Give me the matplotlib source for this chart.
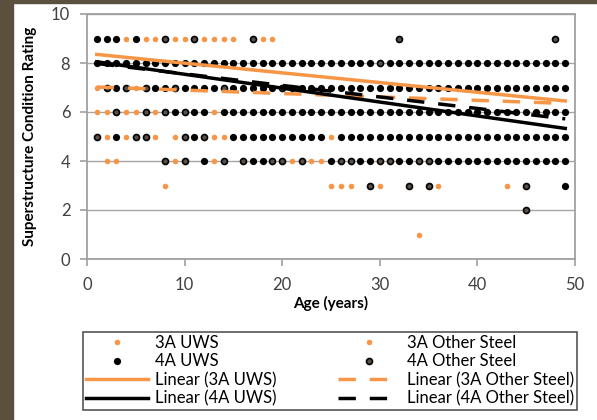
import matplotlib.pyplot as plt
from matplotlib.patches import Rectangle

plt.rcParams['font.family'] = ['Lato', 'DejaVu Sans']

orange = '#F79646'

# points per condition rating -> ages
uws3 = {9: [4, 6, 7, 9, 10, 12, 13], 6: [1, 2, 4, 5, 7, 13], 4: [2, 3, 9, 13]}
uws4 = {9: [1, 2, 3, 5],
        8: list(range(1, 30)) + list(range(31, 50)),
        7: [3, 7, 8, 10, 11, 12, 13, 15, 16, 17, 18, 19] + list(range(21, 50)),
        6: [9, 11, 12] + list(range(14, 50)),
        5: [3, 11] + list(range(15, 25)) + list(range(26, 50)),
        4: [12, 17, 18, 25, 28, 29, 32, 33] + list(range(36, 50)),
        3: [49]}
oth3 = {9: [14, 15, 18, 19], 7: [1, 5], 5: [2, 4, 7, 9, 13, 14, 25],
        4: [21, 23, 24], 3: [8, 25, 26, 27, 30, 36, 43], 1: [34]}
oth4 = {9: [8, 11, 17, 32, 48], 8: [30], 7: [2, 4, 6, 9, 14, 20],
        6: [3, 6, 8, 10], 5: [1, 5, 6, 10, 12],
        4: [8, 10, 14, 16, 19, 20, 22, 26, 27, 30, 31, 34, 35],
        3: [29, 33, 35, 45], 2: [45]}

# linear trend lines, end points at age 1 and 49
trend_age = [1, 49]
trend_uws3 = [8.35, 6.45]
trend_uws4 = [8.05, 5.33]
trend_oth3 = [7.02, 6.35]
trend_oth4 = [7.98, 5.72]


def xy(d):
    xs, ys = [], []
    for r, ages in d.items():
        xs += ages
        ys += [r] * len(ages)
    return xs, ys


fig = plt.figure(figsize=(5.97, 4.2), dpi=100)
fig.patches.append(Rectangle((0, 0), 13 / 597, 1, transform=fig.transFigure,
                             color='#5b4f3e', zorder=-1))
fig.patches.append(Rectangle((0, 1 - 3 / 420), 1, 3 / 420, transform=fig.transFigure,
                             color='#5b4f3e', zorder=-1))

ax = fig.add_axes([87 / 597, 1 - 259 / 420, (575 - 87) / 597, (259 - 14) / 420])

x, y = xy(uws3)
ax.plot(x, y, 'o', ms=4, color=orange, mec='none', label='3A UWS', zorder=3)
x, y = xy(uws4)
ax.plot(x, y, 'o', ms=5.2, color='black', mec='none', label='4A UWS', zorder=3)
x, y = xy(oth3)
ax.plot(x, y, 'o', ms=4, color=orange, mec='none', label='3A Other Steel', zorder=3)
x, y = xy(oth4)
ax.plot(x, y, 'o', ms=4.3, mfc='#5a5048', mec='black', mew=1.2,
        label='4A Other Steel', zorder=3)

ax.plot(trend_age, trend_uws3, '-', color=orange, lw=2.5, label='Linear (3A UWS)', zorder=4)
ax.plot(trend_age, trend_oth3, '--', color=orange, lw=2.5, dashes=(5, 4),
        label='Linear (3A Other Steel)', zorder=4)
ax.plot(trend_age, trend_uws4, '-', color='black', lw=2.5, label='Linear (4A UWS)', zorder=4)
ax.plot(trend_age, trend_oth4, '--', color='black', lw=2.5, dashes=(5, 4),
        label='Linear (4A Other Steel)', zorder=4)

ax.set_xlim(0, 50)
ax.set_ylim(0, 10)
ax.set_xticks(range(0, 51, 10))
ax.set_yticks(range(0, 11, 2))
ax.grid(axis='y', color='#a6a6a6', lw=1)
ax.set_axisbelow(True)
for s in ax.spines.values():
    s.set_color('#a0a0a0')
    s.set_linewidth(1.3)
ax.tick_params(colors='#a0a0a0', labelcolor='#404040', labelsize=12, length=5, width=1.2)
ax.tick_params(axis='y', pad=7)
ax.tick_params(axis='x', pad=8)

ax.set_xlabel('Age (years)', fontsize=11, fontweight='bold', labelpad=2)
ax.set_ylabel('Superstructure Condition Rating', fontsize=11, fontweight='bold', labelpad=10)

h, l = ax.get_legend_handles_labels()
order = [0, 1, 4, 6, 2, 3, 5, 7]
leg = fig.legend([h[i] for i in order], [l[i] for i in order], ncol=2,
                 loc='lower left', mode='expand', borderaxespad=0,
                 bbox_to_anchor=(83 / 597, 10 / 420, 494 / 597, 87 / 420),
                 fontsize=12, handlelength=3.7, handletextpad=0.4,
                 labelspacing=0.15, borderpad=0.2, fancybox=False, framealpha=1)
leg.get_frame().set_edgecolor('#555555')
leg.get_frame().set_linewidth(1.2)

fig.savefig('out.png', dpi=100)
